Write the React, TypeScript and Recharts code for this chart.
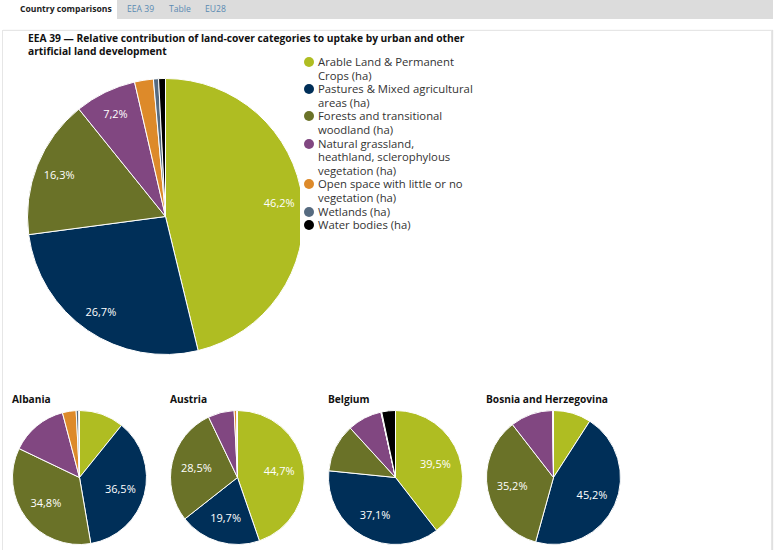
import React from 'react';
import { Cell, Pie, PieChart } from 'recharts';

const categories = [
  'Arable Land & Permanent Crops (ha)',
  'Pastures & Mixed agricultural areas (ha)',
  'Forests and transitional woodland (ha)',
  'Natural grassland, heathland, sclerophylous vegetation (ha)',
  'Open space with little or no vegetation (ha)',
  'Wetlands (ha)',
  'Water bodies (ha)',
];

const legendLines = [
  ['Arable Land & Permanent', 'Crops (ha)'],
  ['Pastures & Mixed agricultural', 'areas (ha)'],
  ['Forests and transitional', 'woodland (ha)'],
  ['Natural grassland,', 'heathland, sclerophylous', 'vegetation (ha)'],
  ['Open space with little or no', 'vegetation (ha)'],
  ['Wetlands (ha)'],
  ['Water bodies (ha)'],
];

const titleLines = [
  'EEA 39 — Relative contribution of land-cover categories to uptake by urban and other',
  'artificial land development',
];

const colors = ['#afbd22', '#002f58', '#6a7228', '#814781', '#dd8a2a', '#566b80', '#000000'];

const eea39Values = [46.2, 26.7, 16.3, 7.2, 2.2, 0.6, 0.8];
const albaniaValues = [10.8, 36.5, 34.8, 13.8, 3.3, 0.6, 0.2];
const austriaValues = [44.7, 19.7, 28.5, 6.3, 0.6, 0.1, 0.1];
const belgiumValues = [39.5, 37.1, 11.6, 8.3, 0.1, 0.1, 3.3];
const bosniaValues = [9.1, 45.2, 35.2, 10.3, 0.1, 0.05, 0.05];

const countries = ['Albania', 'Austria', 'Belgium', 'Bosnia and Herzegovina'];
const countryValues = [albaniaValues, austriaValues, belgiumValues, bosniaValues];

const FONT = '"Open Sans", "DejaVu Sans", sans-serif';
const RADIAN = Math.PI / 180;
const NO_MARGIN = { top: 0, right: 0, bottom: 0, left: 0 };

const toRows = (values: number[]) =>
  categories.map((name, i) => ({ name, value: values[i] }));

const makeLabel = (ratio: number, minPercent: number) => (props: any) => {
  const { cx, cy, midAngle, outerRadius, percent, value } = props;
  if (percent < minPercent) return null;
  const r = outerRadius * ratio;
  const x = cx + r * Math.cos(-midAngle * RADIAN);
  const y = cy + r * Math.sin(-midAngle * RADIAN);
  return (
    <text
      x={x}
      y={y}
      fill="#fff"
      textAnchor="middle"
      dominantBaseline="central"
      fontSize={11}
      fontFamily={FONT}
    >
      {value.toFixed(1).replace('.', ',')}%
    </text>
  );
};

const Legend = () => (
  <div style={{ position: 'absolute', left: 303, top: 55, fontFamily: FONT, fontSize: 11.3, color: '#333', lineHeight: '13.6px' }}>
    {legendLines.map((lines, i) => (
      <div key={i} style={{ position: 'relative', paddingLeft: 15 }}>
        <span
          style={{
            position: 'absolute',
            left: 1,
            top: 2,
            width: 10,
            height: 10,
            borderRadius: 5,
            background: colors[i],
          }}
        />
        {lines.map((l, j) => (
          <div key={j} style={{ whiteSpace: 'nowrap' }}>{l}</div>
        ))}
      </div>
    ))}
  </div>
);

export default function App() {
  return (
    <div style={{ position: 'absolute', left: 0, top: 0, width: 774, height: 550, background: '#fff', overflow: 'hidden', fontFamily: FONT }}>
      {/* tab bar */}
      <div style={{ position: 'absolute', left: 117, top: 0, width: 656, height: 19, background: '#dcdcdc' }} />
      <div style={{ position: 'absolute', left: 14, top: 0, width: 103, height: 19, background: '#fff', borderTopLeftRadius: 4 }} />
      <div style={{ position: 'absolute', left: 20, top: 3, fontSize: 8.6, fontWeight: 700, color: '#222' }}>Country comparisons</div>
      <div style={{ position: 'absolute', left: 127, top: 3, fontSize: 8.6, color: '#5a8ab2' }}>EEA 39</div>
      <div style={{ position: 'absolute', left: 169, top: 3, fontSize: 8.6, color: '#5a8ab2' }}>Table</div>
      <div style={{ position: 'absolute', left: 205, top: 3, fontSize: 8.6, color: '#5a8ab2' }}>EU28</div>

      {/* panel */}
      <div style={{ position: 'absolute', left: 2, top: 30, width: 768, height: 530, border: '1px solid #e6e6e6', boxShadow: '1px 0 1px #e0e0e0' }} />

      {titleLines.map((line, i) => (
        <div
          key={i}
          style={{ position: 'absolute', left: 28, top: 32 + i * 13, fontSize: 10.25, fontWeight: 700, color: '#111', lineHeight: '13px', whiteSpace: 'nowrap' }}
        >
          {line}
        </div>
      ))}

      <div style={{ position: 'absolute', left: 0, top: 50 }}>
        <PieChart width={300} height={320} margin={NO_MARGIN}>
          <Pie
            data={toRows(eea39Values)}
            dataKey="value"
            nameKey="name"
            cx={165.5}
            cy={166.5}
            outerRadius={138}
            startAngle={90}
            endAngle={-270}
            stroke="#fff"
            strokeWidth={1}
            label={makeLabel(0.83, 0.05)}
            labelLine={false}
            isAnimationActive={false}
          >
            {eea39Values.map((_, i) => (
              <Cell key={i} fill={colors[i]} />
            ))}
          </Pie>
        </PieChart>
      </div>

      <Legend />

      {countries.map((country, k) => (
        <React.Fragment key={country}>
          <div style={{ position: 'absolute', left: 12 + k * 158, top: 392, fontSize: 10.2, fontWeight: 700, color: '#111' }}>{country}</div>
          <div style={{ position: 'absolute', left: k * 158, top: 402 }}>
            <PieChart width={158} height={148} margin={NO_MARGIN}>
              <Pie
                data={toRows(countryValues[k])}
                dataKey="value"
                nameKey="name"
                cx={79.5}
                cy={75.5}
                outerRadius={67}
                startAngle={90}
                endAngle={-270}
                stroke="#fff"
                strokeWidth={1}
                label={makeLabel(0.63, 0.15)}
                labelLine={false}
                isAnimationActive={false}
              >
                {countryValues[k].map((_, i) => (
                  <Cell key={i} fill={colors[i]} />
                ))}
              </Pie>
            </PieChart>
          </div>
        </React.Fragment>
      ))}
    </div>
  );
}
